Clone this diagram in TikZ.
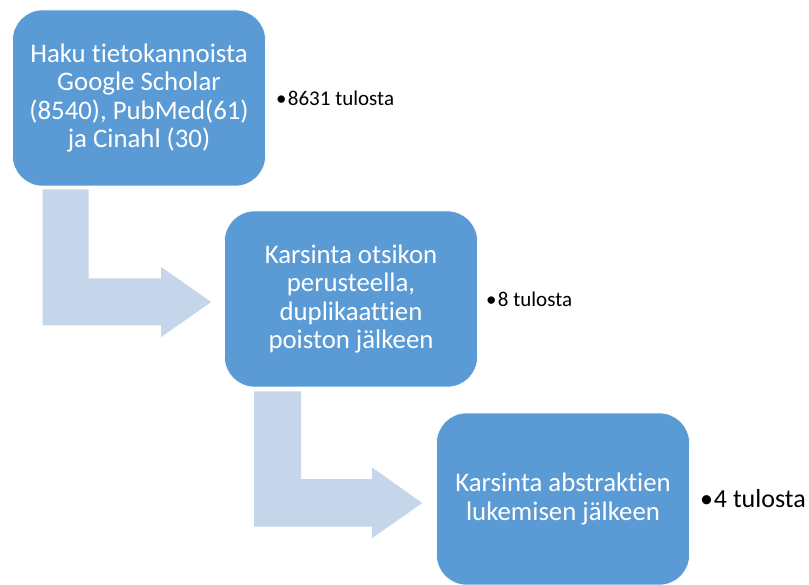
\documentclass[tikz,border=0pt]{standalone}
\usepackage{fontspec}
\setmainfont{Carlito}[RawFeature={-liga;-clig;-calt;-dlig}]
\usetikzlibrary{calc, positioning}
\definecolor{sininen}{HTML}{5B9BD5}
\definecolor{vaalea}{HTML}{C5D5EA}

\begin{document}
\begin{tikzpicture}[
  x=1pt, y=-1pt,
  laatikko/.style={rectangle, rounded corners=30pt, fill=sininen, draw=white, line width=0.6pt,
    minimum width=253pt, minimum height=176pt, align=center, text=white,
    font=\fontsize{26.8pt}{28.5pt}\selectfont},
  nuoli/.style={fill=vaalea},
  tulos/.style={inner sep=0pt, anchor=west, text=black, font=\fontsize{21pt}{24pt}\selectfont},
]
\useasboundingbox (0,0) rectangle (809,585);

% --- Laatikot ---
\node[laatikko] (h1) at (139,98) {Haku tietokannoista\\Google Scholar\\(8540), PubMed(61)\\ja Cinahl (30)};
\node[laatikko] (h2) at (351,299) {Karsinta otsikon\\perusteella,\\duplikaattien\\poiston jälkeen};
\node[laatikko, minimum height=172pt] (h3) at (563,499) {Karsinta abstraktien\\lukemisen jälkeen};

% --- Taitetut nuolet ---
\fill[nuoli] ($(h1.south west)+(30.5,3)$) coordinate (a1) -- ++(46,0)
  |- ($(h2.west)+(-63,-20.5)$) -- ++(0,-11.5) -- ($(h2.west)+(-13,3)$)
  -- ++(-50,35) -- ++(0,-11.5) -| (a1) -- cycle;
\fill[nuoli] ($(h2.south west)+(30,4)$) coordinate (a2) -- ++(47,0)
  |- ($(h3.west)+(-64,-20)$) -- ++(0,-11.5) -- ($(h3.west)+(-14,4)$)
  -- ++(-50,35) -- ++(0,-11.5) -| (a2) -- cycle;

% --- Tulokset ---
\node[tulos, right=10pt of h1] (t1) {•\hspace{1.5pt}8631 tulosta};
\node[tulos, right=8pt of h2] (t2) {•\hspace{1.5pt}8 tulosta};
\node[tulos, right=10pt of h3, font=\fontsize{26pt}{28pt}\selectfont] (t3) {•\hspace{1pt}4 tulosta};

\end{tikzpicture}
\end{document}
